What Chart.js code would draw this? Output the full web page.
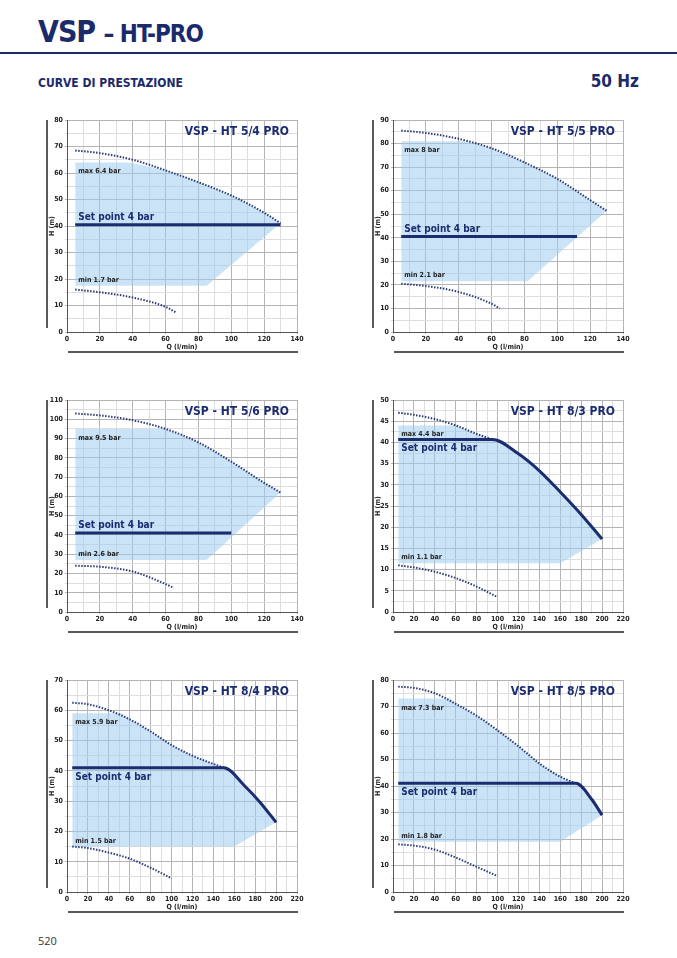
<!DOCTYPE html>
<html><head><meta charset="utf-8">
<script src="https://cdn.jsdelivr.net/npm/chart.js@4"></script>
<style>
body{margin:0;width:677px;height:958px;background:#fff;position:relative;font-family:"Open Sans",sans-serif;overflow:hidden}
.h1{position:absolute;left:38px;top:14px;font:bold 30px "DejaVu Sans Condensed",sans-serif;color:#1b2a6b;letter-spacing:-1px}
.h1 small{font-size:24px}
.rule{position:absolute;left:0;top:52px;width:677px;height:2px;background:#1b2a6b}
.sub{position:absolute;left:38px;top:76px;font:bold 12px "DejaVu Sans Condensed",sans-serif;color:#1b2a6b}
.hz{position:absolute;right:38px;top:71px;font:bold 17px "DejaVu Sans Condensed",sans-serif;color:#1b2a6b}
.pg{position:absolute;left:38px;top:933px;font:11px "Open Sans",sans-serif;color:#333}
canvas{position:absolute}
</style></head><body>
<div class="h1">VSP <small>– HT-PRO</small></div>
<div class="rule"></div>
<div class="sub">CURVE DI PRESTAZIONE</div>
<div class="hz">50 Hz</div>
<div class="pg">520</div>
<canvas id="c1" width="270" height="250" style="left:37px;top:110px"></canvas>
<canvas id="c2" width="270" height="250" style="left:363px;top:110px"></canvas>
<canvas id="c3" width="270" height="250" style="left:37px;top:390px"></canvas>
<canvas id="c4" width="270" height="250" style="left:363px;top:390px"></canvas>
<canvas id="c5" width="270" height="250" style="left:37px;top:670px"></canvas>
<canvas id="c6" width="270" height="250" style="left:363px;top:670px"></canvas>
<script>
// --- data (Q in l/min, H in m) ---
const titles = ['VSP - HT 5/4 PRO','VSP - HT 5/5 PRO','VSP - HT 5/6 PRO','VSP - HT 8/3 PRO','VSP - HT 8/4 PRO','VSP - HT 8/5 PRO'];
const maxLabels = ['max 6.4 bar','max 8 bar','max 9.5 bar','max 4.4 bar','max 5.9 bar','max 7.3 bar'];
const minLabels = ['min 1.7 bar','min 2.1 bar','min 2.6 bar','min 1.1 bar','min 1.5 bar','min 1.8 bar'];
const xMax = [140,140,140,220,220,220];
const yMax = [80,90,110,50,70,80];
const yMajor = [10,10,10,5,10,10];

const maxCurve1 = [[5,68.5],[20,67.5],[40,65],[60,61],[80,56.5],[100,51.5],[120,45],[130,41]];
const setCurve1 = [[5,40.5],[130,40.5]];
const minCurve1 = [[5,16],[20,15],[40,13],[60,9.5],[66,7.5]];
const areaTop1 = [[5,64],[38,64],[60,61],[80,56.5],[100,51.5],[120,45],[130,41]];
const areaBot1 = [[5,17.5],[85,17.5],[130,41]];

const maxCurve2 = [[5,85.5],[20,84.5],[40,82],[60,78],[80,72],[100,65],[120,56],[130,51.5]];
const setCurve2 = [[5,40.5],[112,40.5]];
const minCurve2 = [[5,20.5],[20,19.5],[40,17],[60,12],[65,10]];
const areaTop2 = [[5,81],[45,81],[60,78],[80,72],[100,65],[120,56],[130,51.5]];
const areaBot2 = [[5,21.5],[82,21.5],[130,51.5]];

const maxCurve3 = [[5,103],[20,102],[40,99.5],[60,95],[80,88],[100,78],[120,67],[130,62]];
const setCurve3 = [[5,41],[100,41]];
const minCurve3 = [[5,24],[20,23.5],[40,21],[60,14.5],[65,12.5]];
const areaTop3 = [[5,95],[60,95],[80,88],[100,78],[120,67],[130,62]];
const areaBot3 = [[5,27],[85,27],[130,62]];

const maxCurve4 = [[5,47],[20,46.5],[40,45.5],[60,44],[80,42],[95,40.7]];
const setCurve4 = [[5,40.7],[95,40.7],[120,37.3],[140,33.3],[160,28.3],[180,23],[200,17.2]];
const minCurve4 = [[5,11],[20,10.5],[40,9.5],[60,8],[80,6],[100,3.5]];
const areaTop4 = [[5,44],[60,44],[80,42],[95,40.7],[120,37.3],[140,33.3],[160,28.3],[180,23],[200,17.2]];
const areaBot4 = [[5,11.5],[160,11.5],[200,17.2]];

const maxCurve5 = [[5,62.5],[20,62],[40,60],[60,57],[80,53],[100,48.5],[120,45],[150,41]];
const setCurve5 = [[5,41],[150,41],[170,35],[185,29.5],[200,23]];
const minCurve5 = [[5,15],[20,14.5],[40,13],[60,11],[80,8],[100,4.5]];
const areaTop5 = [[5,59],[52,59],[60,57],[80,53],[100,48.5],[120,45],[150,41],[170,35],[185,29.5],[200,23]];
const areaBot5 = [[5,15],[160,15],[200,23]];

const maxCurve6 = [[5,77.5],[20,77],[40,75],[60,71],[80,66.5],[100,61],[120,55],[140,48.5],[160,43.5],[175,41]];
const setCurve6 = [[5,41],[175,41],[190,35],[200,29]];
const minCurve6 = [[5,18],[20,17.5],[40,16],[60,13],[80,9.5],[100,6]];
const areaTop6 = [[5,73],[55,73],[60,71],[80,66.5],[100,61],[120,55],[140,48.5],[160,43.5],[175,41],[190,35],[200,29]];
const areaBot6 = [[5,19],[160,19],[200,29]];

const series = [
  [maxCurve1,setCurve1,minCurve1,areaTop1,areaBot1],
  [maxCurve2,setCurve2,minCurve2,areaTop2,areaBot2],
  [maxCurve3,setCurve3,minCurve3,areaTop3,areaBot3],
  [maxCurve4,setCurve4,minCurve4,areaTop4,areaBot4],
  [maxCurve5,setCurve5,minCurve5,areaTop5,areaBot5],
  [maxCurve6,setCurve6,minCurve6,areaTop6,areaBot6]
];

const NAVY = '#1c2c70';
const FONT = '"DejaVu Sans Condensed", sans-serif';
const pts = a => a.map(p => ({x: p[0], y: p[1]}));

function makeChart(i) {
  const [mx, sp, mn, at, ab] = series[i];
  const setLabelAbove = i < 3;
  const decor = {
    id: 'decor',
    afterDraw(c) {
      const ctx = c.ctx, a = c.chartArea, xs = c.scales.x, ys = c.scales.y;
      ctx.save();
      ctx.strokeStyle = '#222'; ctx.lineWidth = 1.5;
      ctx.beginPath(); ctx.moveTo(10, a.top); ctx.lineTo(10, a.bottom - 4); ctx.stroke();
      ctx.beginPath(); ctx.moveTo(a.left + 1, a.bottom + 20); ctx.lineTo(a.right + 1, a.bottom + 20); ctx.stroke();
      ctx.fillStyle = '#222'; ctx.font = 'bold 7px ' + FONT;
      ctx.save(); ctx.translate(17, (a.top + a.bottom) / 2); ctx.rotate(-Math.PI / 2);
      ctx.textAlign = 'center'; ctx.fillText('H (m)', 0, 0); ctx.restore();
      ctx.textAlign = 'center'; ctx.fillText('Q (l/min)', (a.left + a.right) / 2, a.bottom + 17);
      ctx.fillStyle = NAVY; ctx.font = 'bold 12px ' + FONT; ctx.textAlign = 'right';
      ctx.fillText(titles[i], a.right - 8, a.top + 15);
      ctx.fillStyle = '#222'; ctx.font = 'bold 7px ' + FONT; ctx.textAlign = 'left';
      ctx.fillText(maxLabels[i], xs.getPixelForValue(5) + 3, ys.getPixelForValue(at[0][1]) + 11);
      ctx.fillText(minLabels[i], xs.getPixelForValue(5) + 3, ys.getPixelForValue(ab[0][1]) - 4);
      ctx.fillStyle = NAVY; ctx.font = 'bold 10px ' + FONT;
      const sy = ys.getPixelForValue(sp[0][1]);
      ctx.fillText('Set point 4 bar', xs.getPixelForValue(5) + 3, setLabelAbove ? sy - 5 : sy + 12);
      ctx.restore();
    }
  };
  const minorStepX = 10, minorStepY = yMajor[i] / 2;
  return new Chart(document.getElementById('c' + (i + 1)), {
    type: 'scatter',
    data: {
      datasets: [
        {order: 10, data: pts(at), showLine: true, borderWidth: 0, pointRadius: 0, fill: '+1', backgroundColor: 'rgba(160,204,240,0.55)', borderColor: 'rgba(0,0,0,0)'},
        {order: 11, data: pts(ab), showLine: true, borderWidth: 0, pointRadius: 0, borderColor: 'rgba(0,0,0,0)'},
        {order: 2, data: pts(mx), showLine: true, borderWidth: 2, borderDash: [1.5, 1.5], pointRadius: 0, borderColor: '#2b3b78', cubicInterpolationMode: 'monotone'},
        {order: 2, data: pts(mn), showLine: true, borderWidth: 2, borderDash: [1.5, 1.5], pointRadius: 0, borderColor: '#2b3b78', cubicInterpolationMode: 'monotone'},
        {order: 1, data: pts(sp), showLine: true, borderWidth: 3, pointRadius: 0, borderColor: NAVY, cubicInterpolationMode: 'monotone'}
      ]
    },
    options: {
      animation: false, responsive: false,
      layout: {padding: {left: 0, top: 10, right: 10, bottom: 0}},
      plugins: {legend: {display: false}, tooltip: {enabled: false}},
      scales: {
        x: {min: 0, max: xMax[i], afterFit: s => { s.height = 28; },
          ticks: {stepSize: minorStepX, autoSkip: false, maxRotation: 0, padding: 1, color: '#222', font: {family: FONT, weight: 'bold', size: 7},
            callback: v => v % 20 === 0 ? v : ''},
          grid: {color: c => c.tick.value % 20 === 0 ? '#b4b4b4' : '#dedede', lineWidth: 1, tickLength: 2},
          border: {color: '#555', width: 1}},
        y: {min: 0, max: yMax[i], afterFit: s => { s.width = 30; },
          ticks: {stepSize: minorStepY, autoSkip: false, padding: 2, color: '#222', font: {family: FONT, weight: 'bold', size: 7},
            callback: v => v % yMajor[i] === 0 ? v : ''},
          grid: {color: c => c.tick.value % yMajor[i] === 0 ? '#b4b4b4' : '#dedede', lineWidth: 1, tickLength: 2},
          border: {color: '#555', width: 1}}
      }
    },
    plugins: [decor]
  });
}
for (let i = 0; i < 6; i++) makeChart(i);
</script>
</body></html>
